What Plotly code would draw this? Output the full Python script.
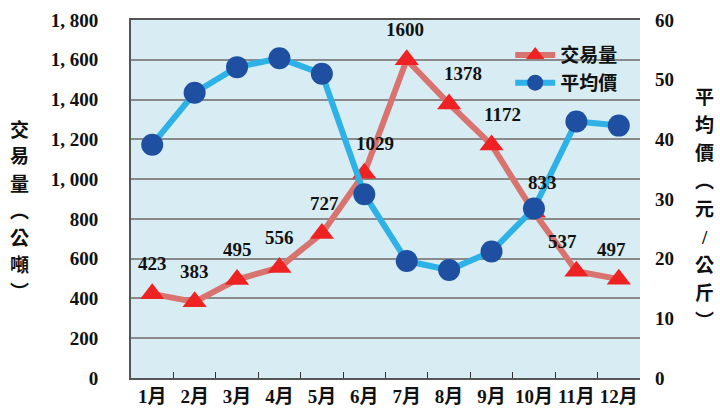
import plotly.graph_objects as go

months = ["1月", "2月", "3月", "4月", "5月", "6月", "7月", "8月", "9月", "10月", "11月", "12月"]
volume = [423, 383, 495, 556, 727, 1029, 1600, 1378, 1172, 833, 537, 497]
price = [39.1, 47.8, 52.1, 53.6, 51.0, 30.8, 19.6, 18.1, 21.2, 28.4, 43.0, 42.3]
left_ticks = [0, 200, 400, 600, 800, 1000, 1200, 1400, 1600, 1800]
left_tick_text = ["0", "200", "400", "600", "800", "1, 000", "1, 200", "1, 400", "1, 600", "1, 800"]
right_ticks = [0, 10, 20, 30, 40, 50, 60]
left_title = ["交", "易", "量", "︵", "公", "噸", "︶"]
right_title = ["平", "均", "價", "︵", "元", "/", "公", "斤", "︶"]
label_xshift = [0, 0, 0, 0, 3, 11, -2, 14, 11, 9, -14, -7]

FONT = "'Liberation Serif', 'Times New Roman', 'Noto Sans CJK TC', serif"

L, R, T, B = 131, 80, 20, 37
W, H = 720, 415
pw, ph = W - L - R, H - T - B


def px_x(x):
    return (x - L) / pw


def px_y(y):
    return (H - B - y) / ph


fig = go.Figure()
fig.add_trace(go.Scatter(
    x=months, y=volume, name="交易量", mode="lines+markers",
    line=dict(color="#D9736F", width=6),
    marker=dict(symbol="triangle-up", size=21, color="#EE2222"),
    yaxis="y",
))
fig.add_trace(go.Scatter(
    x=months, y=price, name="平均價", mode="lines+markers",
    line=dict(color="#2DB1E6", width=6),
    marker=dict(symbol="circle", size=22, color="#1E4FA0"),
    yaxis="y2",
))

for m, v, dx in zip(months, volume, label_xshift):
    fig.add_annotation(x=m, y=v, xref="x", yref="y", text=str(v), showarrow=False,
                       yshift=30, xshift=dx,
                       font=dict(family=FONT, size=19, color="#111", weight="bold"))

for i, ch in enumerate(left_title):
    fig.add_annotation(x=px_x(19), y=px_y(130 + 27 * i), xref="paper", yref="paper",
                       showarrow=False, xanchor="center", yanchor="middle", text=ch,
                       font=dict(family=FONT, size=19, weight="bold", color="#111"))
for i, ch in enumerate(right_title):
    fig.add_annotation(x=px_x(704), y=px_y(97 + 28 * i), xref="paper", yref="paper",
                       showarrow=False, xanchor="center", yanchor="middle", text=ch,
                       font=dict(family=FONT, size=19, weight="bold", color="#111"))

fig.update_layout(
    width=W, height=H,
    margin=dict(l=L, r=R, t=T, b=B, autoexpand=False),
    paper_bgcolor="white",
    plot_bgcolor="#D8EDF3",
    font=dict(family=FONT, size=16, color="#111", weight="bold"),
    showlegend=True,
    legend=dict(x=0.745, y=0.955, xanchor="left", yanchor="top", bgcolor="rgba(0,0,0,0)",
                font=dict(size=19, family=FONT, weight="bold"), tracegroupgap=6,
                itemwidth=40),
    xaxis=dict(type="category", range=[-0.5, 11.5], tickson="boundaries", ticks="inside",
               ticklen=6, tickcolor="#333", showgrid=False, showline=True, linecolor="#555",
               linewidth=2, mirror=True, tickangle=0, automargin=False,
               tickfont=dict(size=19, family=FONT, weight="bold")),
    yaxis=dict(range=[0, 1800], tickvals=left_ticks, ticktext=left_tick_text,
               showgrid=True, gridcolor="#8A8A8A", gridwidth=1.5, showline=True,
               linecolor="#555", linewidth=2, zeroline=False, ticks="", automargin=False,
               tickfont=dict(size=19, family=FONT, weight="bold"), ticklabelstandoff=27),
    yaxis2=dict(range=[0, 60], tickvals=right_ticks, overlaying="y", side="right",
                showgrid=False, showline=False, zeroline=False, ticks="", automargin=False,
                tickfont=dict(size=19, family=FONT, weight="bold"), ticklabelstandoff=14),
)

fig.write_html("out.html", config={"displayModeBar": False},
               post_script="document.body.style.margin='0px';document.body.style.overflow='hidden';")
